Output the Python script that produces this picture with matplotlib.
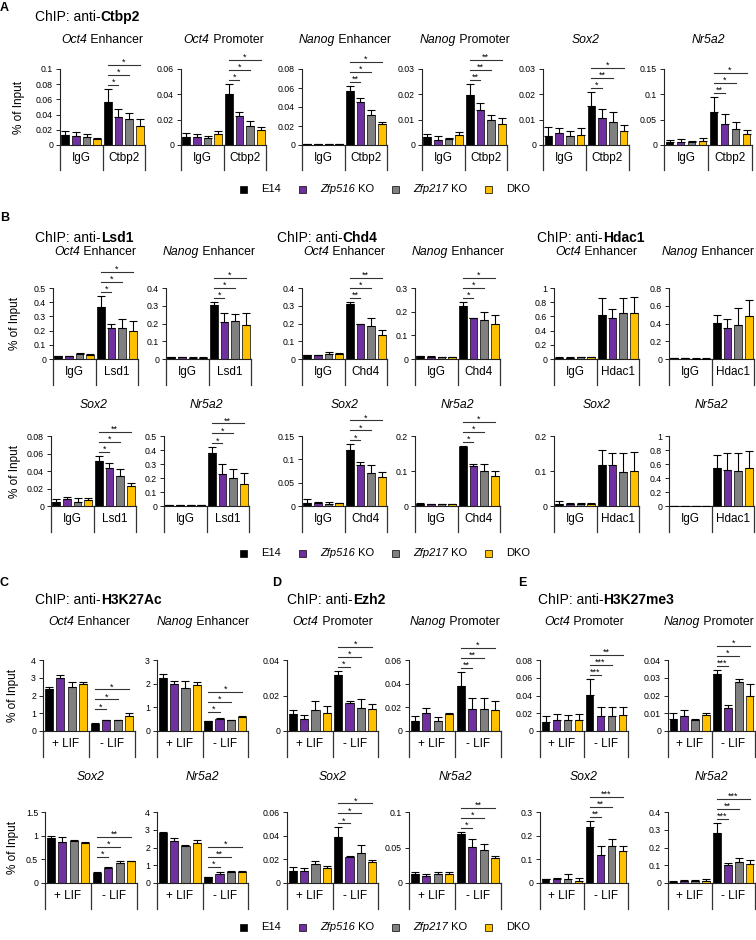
import numpy as np
import matplotlib
matplotlib.use("Agg")
import matplotlib.pyplot as plt
from matplotlib.patches import Rectangle
from matplotlib.ticker import MultipleLocator, FuncFormatter

plt.rcParams['font.family'] = ['Liberation Sans', 'DejaVu Sans']

# ---------------- data ----------------
# legend entries: (italic part, normal part)
series_names = [('', 'E14'), ('Zfp516', ' KO'), ('Zfp217', ' KO'), ('', 'DKO')]
series_colors = ['#000000', '#7030A0', '#808080', '#FFC000']

# Panel A : ChIP anti-Ctbp2
A_titles = [('Oct4', ' Enhancer'), ('Oct4', ' Promoter'), ('Nanog', ' Enhancer'),
            ('Nanog', ' Promoter'), ('Sox2', ''), ('Nr5a2', '')]
A_groups = ['IgG', 'Ctbp2']
A_vals = [
    [0.0132, 0.0119, 0.0106, 0.0084, 0.056, 0.0366, 0.034, 0.0247],
    [0.0061, 0.0067, 0.0053, 0.0085, 0.0405, 0.0232, 0.0152, 0.012],
    [0.0012, 0.0012, 0.0012, 0.0012, 0.0572, 0.0456, 0.0316, 0.022],
    [0.003, 0.002, 0.0025, 0.004, 0.0197, 0.0137, 0.0100, 0.0083],
    [0.0037, 0.0048, 0.0036, 0.0040, 0.0153, 0.0107, 0.0090, 0.0055],
    [0.005, 0.005, 0.005, 0.007, 0.066, 0.041, 0.032, 0.022],
]
A_errs = [
    [0.0053, 0.0048, 0.0044, 0.0009, 0.0176, 0.011, 0.008, 0.0097],
    [0.0032, 0.0016, 0.0022, 0.0022, 0.0075, 0.0029, 0.0037, 0.0021],
    [0.0002, 0.0002, 0.0002, 0.0002, 0.0048, 0.0034, 0.0052, 0.002],
    [0.0013, 0.0015, 0.0003, 0.0013, 0.0044, 0.003, 0.002, 0.0022],
    [0.0036, 0.0019, 0.002, 0.0029, 0.0056, 0.0036, 0.0039, 0.0022],
    [0.005, 0.006, 0.002, 0.006, 0.029, 0.021, 0.013, 0.007],
]
A_stars = [['*', '*', '*'], ['*', '*', '*'], ['**', '*', '*'],
           ['**', '**', '**'], ['*', '**', '*'], ['**', '*', '*']]
A_ymax = [0.1, 0.06, 0.08, 0.03, 0.03, 0.15]
A_step = [0.02, 0.02, 0.02, 0.01, 0.01, 0.05]

# Panel B : Lsd1 / Chd4 / Hdac1
B_titles = [('Oct4', ' Enhancer'), ('Nanog', ' Enhancer'), ('Oct4', ' Enhancer'),
            ('Nanog', ' Enhancer'), ('Oct4', ' Enhancer'), ('Nanog', ' Enhancer'),
            ('Sox2', ''), ('Nr5a2', ''), ('Sox2', ''), ('Nr5a2', ''),
            ('Sox2', ''), ('Nr5a2', '')]
B_targets = ['Lsd1', 'Lsd1', 'Chd4', 'Chd4', 'Hdac1', 'Hdac1'] * 2
B_vals = [
    [0.022, 0.02, 0.033, 0.028, 0.367, 0.216, 0.216, 0.200],
    [0.01, 0.01, 0.008, 0.008, 0.305, 0.209, 0.213, 0.194],
    [0.022, 0.02, 0.03, 0.028, 0.311, 0.196, 0.185, 0.136],
    [0.012, 0.01, 0.009, 0.008, 0.225, 0.172, 0.163, 0.149],
    [0.02, 0.02, 0.03, 0.03, 0.62, 0.58, 0.65, 0.65],
    [0.01, 0.01, 0.005, 0.005, 0.408, 0.351, 0.385, 0.479],
    [0.0049, 0.0079, 0.0045, 0.0064, 0.051, 0.0438, 0.0343, 0.023],
    [0.005, 0.004, 0.004, 0.005, 0.376, 0.228, 0.202, 0.16],
    [0.007, 0.007, 0.0043, 0.0057, 0.119, 0.0887, 0.070, 0.063],
    [0.007, 0.005, 0.005, 0.005, 0.17, 0.113, 0.1, 0.087],
    [0.007, 0.006, 0.005, 0.006, 0.118, 0.117, 0.097, 0.1],
    [0.005, 0.004, 0.004, 0.004, 0.55, 0.51, 0.5, 0.55],
]
B_errs = [
    [0.002, 0.003, 0.006, 0.004, 0.08, 0.028, 0.068, 0.067],
    [0.001, 0.001, 0.001, 0.001, 0.015, 0.048, 0.04, 0.065],
    [0.003, 0.005, 0.01, 0.004, 0.01, 0.002, 0.047, 0.025],
    [0.001, 0.001, 0.001, 0.001, 0.017, 0.002, 0.037, 0.037],
    [0.003, 0.003, 0.005, 0.004, 0.24, 0.12, 0.21, 0.22],
    [0.001, 0.001, 0.001, 0.001, 0.09, 0.098, 0.19, 0.19],
    [0.0026, 0.0023, 0.0049, 0.003, 0.0067, 0.005, 0.0077, 0.003],
    [0.001, 0.001, 0.001, 0.001, 0.043, 0.073, 0.059, 0.078],
    [0.007, 0.002, 0.0043, 0.0013, 0.013, 0.005, 0.017, 0.01],
    [0.001, 0.001, 0.001, 0.001, 0.002, 0.008, 0.02, 0.012],
    [0.006, 0.002, 0.004, 0.004, 0.042, 0.035, 0.055, 0.055],
    [0.001, 0.001, 0.001, 0.001, 0.18, 0.25, 0.26, 0.24],
]
B_stars = [['*', '*', '*'], ['*', '*', '*'], ['**', '*', '**'], ['*', '*', '*'], None, None,
           ['*', '*', '**'], ['*', '*', '**'], ['*', '*', '*'], ['*', '*', '*'], None, None]
B_ymax = [0.5, 0.4, 0.4, 0.3, 1, 0.8, 0.08, 0.5, 0.15, 0.2, 0.2, 1]
B_step = [0.1, 0.1, 0.1, 0.1, 0.2, 0.2, 0.02, 0.1, 0.05, 0.1, 0.1, 0.2]

# Panels C, D, E : H3K27Ac / Ezh2 / H3K27me3
C_titles = [('Oct4', ' Enhancer'), ('Nanog', ' Enhancer'), ('Oct4', ' Promoter'),
            ('Nanog', ' Promoter'), ('Oct4', ' Promoter'), ('Nanog', ' Promoter'),
            ('Sox2', ''), ('Nr5a2', ''), ('Sox2', ''), ('Nr5a2', ''),
            ('Sox2', ''), ('Nr5a2', '')]
C_groups = ['+ LIF', '- LIF']
C_vals = [
    [2.36, 3.0, 2.48, 2.67, 0.42, 0.61, 0.61, 0.84],
    [2.25, 1.97, 1.83, 1.94, 0.41, 0.51, 0.45, 0.61],
    [0.0098, 0.007, 0.012, 0.0104, 0.0315, 0.0155, 0.0132, 0.0123],
    [0.0087, 0.0152, 0.0087, 0.014, 0.0383, 0.0189, 0.0189, 0.0175],
    [0.0106, 0.0128, 0.0128, 0.0125, 0.0404, 0.0174, 0.0174, 0.0185],
    [0.0068, 0.0085, 0.006, 0.0092, 0.0323, 0.013, 0.0274, 0.0196],
    [0.96, 0.86, 0.89, 0.85, 0.22, 0.31, 0.42, 0.46],
    [2.8, 2.38, 2.1, 2.25, 0.32, 0.52, 0.62, 0.62],
    [0.0105, 0.01, 0.016, 0.013, 0.039, 0.022, 0.025, 0.018],
    [0.012, 0.01, 0.012, 0.013, 0.069, 0.0505, 0.047, 0.035],
    [0.015, 0.017, 0.018, 0.008, 0.236, 0.12, 0.155, 0.135],
    [0.007, 0.012, 0.01, 0.014, 0.28, 0.1, 0.12, 0.105],
]
C_errs = [
    [0.12, 0.14, 0.28, 0.09, 0.02, 0.02, 0.02, 0.15],
    [0.17, 0.13, 0.28, 0.12, 0.02, 0.02, 0.01, 0.03],
    [0.0019, 0.0019, 0.005, 0.0036, 0.0023, 0.0015, 0.0048, 0.0027],
    [0.004, 0.0042, 0.0031, 0.0012, 0.0116, 0.0093, 0.0091, 0.0075],
    [0.006, 0.0068, 0.0057, 0.0071, 0.0185, 0.0096, 0.0096, 0.0085],
    [0.0034, 0.0034, 0.0006, 0.001, 0.0022, 0.0019, 0.002, 0.0066],
    [0.03, 0.12, 0.02, 0.02, 0.01, 0.02, 0.04, 0.01],
    [0.05, 0.17, 0.05, 0.2, 0.03, 0.08, 0.03, 0.06],
    [0.003, 0.003, 0.003, 0.0015, 0.008, 0.001, 0.007, 0.0012],
    [0.003, 0.003, 0.003, 0.003, 0.003, 0.012, 0.008, 0.003],
    [0.003, 0.006, 0.022, 0.014, 0.025, 0.035, 0.03, 0.02],
    [0.002, 0.006, 0.006, 0.006, 0.06, 0.015, 0.02, 0.025],
]
C_stars = [['*', '*', '*'], ['*', '*', '*'], ['*', '*', '*'], ['**', '**', '*'],
           ['***', '***', '**'], ['***', '*', '*'],
           ['*', '*', '**'], ['*', '**', '*'], ['*', '*', '*'], ['*', '*', '**'],
           ['**', '**', '***'], ['***', '**', '***']]
C_ymax = [4, 3, 0.04, 0.06, 0.08, 0.04, 1.5, 4, 0.06, 0.1, 0.3, 0.4]
C_step = [1, 1, 0.02, 0.02, 0.02, 0.01, 0.5, 1, 0.02, 0.05, 0.1, 0.1]

# ---------------- figure ----------------
W, H = 756, 940
fig = plt.figure(figsize=(W / 100, H / 100), dpi=100)
fig.patch.set_facecolor('white')
renderer = fig.canvas.get_renderer()

fmt = FuncFormatter(lambda v, p: format(round(v, 6), 'g'))


def rich(x_px, y_px, parts, size, ha='center'):
    """parts: list of (text, style, weight); drawn side by side."""
    objs, widths = [], []
    for s, style, weight in parts:
        if not s:
            continue
        t = fig.text(0, 1 - y_px / H, s, fontsize=size, style=style, fontweight=weight,
                     ha='left', va='center')
        objs.append(t)
        widths.append(t.get_window_extent(renderer).width)
    total = sum(widths)
    x0 = x_px - total / 2 if ha == 'center' else x_px
    x0 = max(2, min(x0, W - 2 - total))
    for t, w in zip(objs, widths):
        t.set_x(x0 / W)
        x0 += w
    return x0


def px_axes(left, width, ytop, yzero):
    return fig.add_axes([left / W, 1 - yzero / H, width / W, (yzero - ytop) / H])


def draw_panel(ax, vals, errs, stars, ymax, step, groups, title, title_y, hpx, depth=26):
    x = np.arange(8)
    cols = series_colors * 2
    ax.bar(x, vals, width=0.72, color=cols, edgecolor='black', linewidth=0.5, zorder=2)
    ax.errorbar(x, vals, yerr=[np.zeros(8), errs], fmt='none', ecolor='black',
                elinewidth=0.8, capsize=2.6, capthick=0.8, zorder=3)
    ax.set_xlim(-0.5, 7.5)
    ax.set_ylim(0, ymax)
    ax.yaxis.set_major_locator(MultipleLocator(step))
    ax.yaxis.set_major_formatter(fmt)
    for s in ('top', 'right'):
        ax.spines[s].set_visible(False)
    for s in ('left', 'bottom'):
        ax.spines[s].set_linewidth(0.8)
        ax.spines[s].set_color('#222222')
    ax.set_xticks([])
    ax.tick_params(axis='y', length=3, width=0.6, labelsize=6.3, pad=2, direction='out')
    ax.patch.set_alpha(0)
    t = ax.get_xaxis_transform()
    d = depth / hpx
    for xv in (-0.5, 3.5, 7.5):
        ax.plot([xv, xv], [0, -d], transform=t, color='#333333', lw=0.9, clip_on=False)
    ax.text(1.5, -d / 2, groups[0], transform=t, ha='center', va='center', fontsize=8.5)
    ax.text(5.5, -d / 2, groups[1], transform=t, ha='center', va='center', fontsize=8.5)
    if stars:
        tops = np.array(vals[4:]) + np.array(errs[4:])
        base = tops.max() * hpx / ymax + 4
        for k, s in enumerate(stars):
            yv = (base + k * 10) * ymax / hpx
            ax.plot([4, 5 + k], [yv, yv], color='#333333', lw=0.8, clip_on=False)
            ax.text((9 + k) / 2, yv, s, ha='center', va='baseline', fontsize=6.5,
                    clip_on=False)
    bb = ax.get_position()
    cx = (bb.x0 + bb.x1) / 2 * W
    rich(cx, title_y, [(title[0], 'italic', 'normal'), (title[1], 'normal', 'normal')], 8.8)


def ylabel(x, ytop, yzero):
    fig.text(x / W, 1 - (ytop + yzero) / 2 / H, '% of Input', rotation=90,
             ha='center', va='center', fontsize=8.5)


def legend(y):
    x = 240
    for (it, rm), c in zip(series_names, series_colors):
        fig.add_artist(Rectangle((x / W, 1 - (y + 3.5) / H), 7 / W, 7 / H,
                                 facecolor=c, edgecolor='black', linewidth=0.5,
                                 transform=fig.transFigure))
        x = rich(x + 7 + 14, y, [(it, 'italic', 'normal'), (rm, 'normal', 'normal')],
                 8, ha='left')
        x += 18


def label(x, y, s, size=9):
    fig.text(x / W, 1 - y / H, s, ha='left', va='center', fontsize=size, fontweight='bold')


def header(x, y, target):
    rich(x, y, [('ChIP: anti-', 'normal', 'normal'), (target, 'normal', 'bold')], 10,
         ha='left')


# ---- Panel A ----
label(0, 8, 'A')
header(35, 17, 'Ctbp2')
A_left = [60, 181, 302, 422, 543, 664]
A_w = [85, 85, 85, 85, 86, 88]
for i in range(6):
    ax = px_axes(A_left[i], A_w[i], 69, 145)
    draw_panel(ax, A_vals[i], A_errs[i], A_stars[i], A_ymax[i], A_step[i],
               A_groups, A_titles[i], 40, 76, depth=25)
ylabel(19, 69, 145)
legend(189)

# ---- Panel B ----
label(0, 218, 'B')
header(35, 238, 'Lsd1')
header(277, 238, 'Chd4')
header(537, 238, 'Hdac1')
B_left = [53, 166, 302, 415, 554, 669, 51, 164, 302, 415, 554, 669]
B_ytop = [288] * 6 + [436] * 6
B_yzero = [359] * 6 + [506] * 6
B_ty = [252] * 6 + [405] * 6
for i in range(12):
    ax = px_axes(B_left[i], 85, B_ytop[i], B_yzero[i])
    draw_panel(ax, B_vals[i], B_errs[i], B_stars[i], B_ymax[i], B_step[i],
               ['IgG', B_targets[i]], B_titles[i], B_ty[i], B_yzero[i] - B_ytop[i])
ylabel(15, 288, 359)
ylabel(15, 436, 506)
legend(553)

# ---- Panels C, D, E ----
label(0, 583, 'C')
label(272, 583, 'D')
label(518, 583, 'E')
header(35, 600, 'H3K27Ac')
header(287, 600, 'Ezh2')
header(538, 600, 'H3K27me3')
C_left = [43, 157, 287, 409, 540, 668, 45, 157, 287, 409, 540, 668]
C_w = [92, 91, 91, 92, 88, 87] * 2
C_ytop = [660] * 6 + [812] * 6
C_yzero = [731] * 6 + [883] * 6
C_ty = [622] * 6 + [777] * 6
for i in range(12):
    ax = px_axes(C_left[i], C_w[i], C_ytop[i], C_yzero[i])
    draw_panel(ax, C_vals[i], C_errs[i], C_stars[i], C_ymax[i], C_step[i],
               C_groups, C_titles[i], C_ty[i], C_yzero[i] - C_ytop[i])
ylabel(13, 660, 731)
ylabel(13, 812, 883)
legend(927)

fig.savefig('out.png', dpi=100)
